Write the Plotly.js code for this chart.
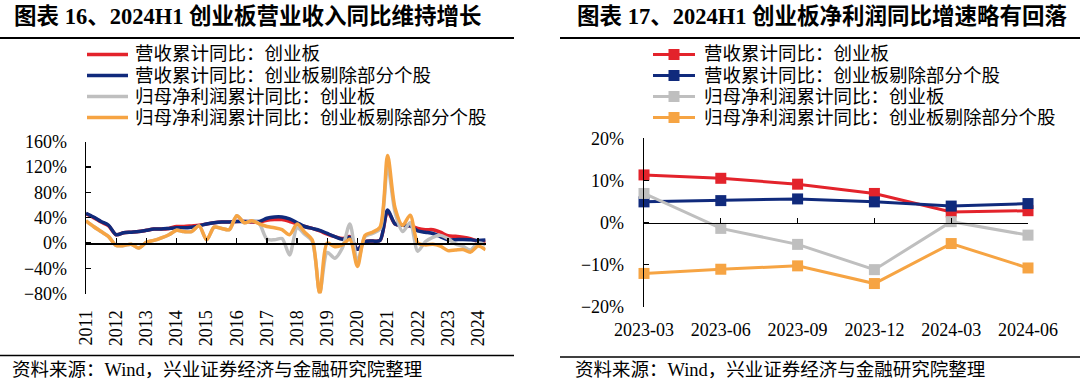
<!DOCTYPE html>
<html>
<head>
<meta charset="utf-8">
<script src="https://cdn.plot.ly/plotly-3.0.1.min.js"></script>
<style>html,body{margin:0;padding:0;background:#fff;}#chart{width:1080px;height:387px;}</style>
</head>
<body>
<div id="chart"></div>
<script>
// ---------------- data ----------------
const quarters = [
 '2011-03','2011-06','2011-09','2011-12','2012-03','2012-06','2012-09','2012-12',
 '2013-03','2013-06','2013-09','2013-12','2014-03','2014-06','2014-09','2014-12',
 '2015-03','2015-06','2015-09','2015-12','2016-03','2016-06','2016-09','2016-12',
 '2017-03','2017-06','2017-09','2017-12','2018-03','2018-06','2018-09','2018-12',
 '2019-03','2019-06','2019-09','2019-12','2020-03','2020-06','2020-09','2020-12',
 '2021-03','2021-06','2021-09','2021-12','2022-03','2022-06','2022-09','2022-12',
 '2023-03','2023-06','2023-09','2023-12','2024-03','2024-06'];
const yearTickVals = ['2011-03','2012-03','2013-03','2014-03','2015-03','2016-03','2017-03',
 '2018-03','2019-03','2020-03','2021-03','2022-03','2023-03','2024-03'];
const yearTickText = ['2011','2012','2013','2014','2015','2016','2017','2018','2019','2020','2021','2022','2023','2024'];

const revGem = [46,40,33,27, 13,16,17,18, 20,22,22,23, 26,26,27,28, 30,32,33,33, 34,34,33,33,
 36,37,37,34, 30,26,23,19, 14,10,7,10, -10,2,3,4, 50,30,28,27, 23,21,21,17,
 11.3,10.5,9.1,6.9, 2.5,2.8];
const revGemEx = [47,41,34,28, 13,16,17,18, 20,22,22,23, 24,24,25,27, 30,32,33,33, 34,34,34,34,
 39,41,41,38, 32,26,23,20, 15,10,6,9, -10,2,3,4, 52,30,28,27, 19,17,15,10,
 4.9,5.2,5.6,4.9, 3.9,4.5];
const npGem = [35,26,18,10, -4,-4,-2,-8, 1,4,8,13, 20,18,18,27, 5,25,23,21, 43,32,35,30,
 6,5,7,-19, 24,14,3,-78, -15,-24,-8,30, -30,10,15,22, 122,48,18,32, -13,2,9,12,
 6.9,-1.4,-5.2,-11.2, 0.2,-3.0];
const npGemEx = [35,26,18,10, -4,-4,-2,-8, 1,4,8,13, 20,18,18,27, 5,25,23,21, 43,32,35,30,
 26,24,21,13, 30,17,5,-80, 0,-6,-3,6, -37,12,17,25, 138,55,28,44, 0,-3,-2,-5,
 -12.1,-11.1,-10.3,-14.5, -5.0,-10.8];

const recentQuarters = ['2023-03','2023-06','2023-09','2023-12','2024-03','2024-06'];
const revGem2   = [11.3,10.5,9.1,6.9,2.5,2.8];
const revGemEx2 = [4.9,5.2,5.6,4.9,3.9,4.5];
const npGem2    = [6.9,-1.4,-5.2,-11.2,0.2,-3.0];
const npGemEx2  = [-12.1,-11.1,-10.3,-14.5,-5.0,-10.8];

const seriesNames = ['营收累计同比：创业板','营收累计同比：创业板剔除部分个股',
 '归母净利润累计同比：创业板','归母净利润累计同比：创业板剔除部分个股'];
const colors = ['#E3232B','#102A7C','#BFBFBF','#F6A443'];

const title1 = '图表 16、2024H1 创业板营业收入同比维持增长';
const title2 = '图表 17、2024H1 创业板净利润同比增速略有回落';
const sourceText = '资料来源：Wind，兴业证券经济与金融研究院整理';

// ---------------- helpers ----------------
const W = 1080, H = 387;
const px = x => x / W;
const py = y => 1 - y / H;
const FONT = 'Liberation Serif, "Times New Roman", "Noto Sans CJK SC", serif';
const tickFont = {family: FONT, size: 18, color: '#000'};

const leftSeries = [revGem, revGemEx, npGem, npGemEx];
const rightSeries = [revGem2, revGemEx2, npGem2, npGemEx2];

const traces = [];
leftSeries.forEach((s, i) => {
  traces.push({x: quarters, y: s, xaxis: 'x', yaxis: 'y', type: 'scatter', mode: 'lines',
    name: seriesNames[i], showlegend: false, hoverinfo: 'skip',
    line: {color: colors[i], width: 3.5, shape: 'spline', smoothing: 0.8}});
});
rightSeries.forEach((s, i) => {
  traces.push({x: recentQuarters, y: s, xaxis: 'x2', yaxis: 'y2', type: 'scatter', mode: 'lines+markers',
    name: seriesNames[i], showlegend: false, hoverinfo: 'skip', cliponaxis: false,
    line: {color: colors[i], width: 3},
    marker: {symbol: 'square', size: 11, color: colors[i]}});
});
// carriers for the zero-crossing axes
traces.push({x: quarters, y: quarters.map(() => null), xaxis: 'x3', yaxis: 'y', type: 'scatter',
  mode: 'lines', showlegend: false, hoverinfo: 'skip'});
traces.push({x: recentQuarters, y: recentQuarters.map(() => null), xaxis: 'x4', yaxis: 'y2', type: 'scatter',
  mode: 'lines', showlegend: false, hoverinfo: 'skip'});

// ---------------- legend (manual) ----------------
const shapes = [];
const annotations = [];
const rowsY = [54.5, 75.5, 96.5, 117.5];
seriesNames.forEach((n, i) => {
  const y = rowsY[i];
  // left legend
  shapes.push({type: 'line', xref: 'paper', yref: 'paper', x0: px(87), x1: px(128), y0: py(y), y1: py(y),
    line: {color: colors[i], width: 3.5}});
  annotations.push({xref: 'paper', yref: 'paper', x: px(133), y: py(y), xanchor: 'left', yanchor: 'middle',
    text: n, showarrow: false, font: {family: FONT, size: 18.5, color: '#000'}});
  // right legend
  shapes.push({type: 'line', xref: 'paper', yref: 'paper', x0: px(653), x1: px(695), y0: py(y), y1: py(y),
    line: {color: colors[i], width: 3}});
  shapes.push({type: 'rect', xref: 'paper', yref: 'paper', x0: px(668.5), x1: px(679.5), y0: py(y + 5.5), y1: py(y - 5.5),
    line: {width: 0}, fillcolor: colors[i]});
  annotations.push({xref: 'paper', yref: 'paper', x: px(702), y: py(y), xanchor: 'left', yanchor: 'middle',
    text: n, showarrow: false, font: {family: FONT, size: 18.5, color: '#000'}});
});

// titles
annotations.push({xref: 'paper', yref: 'paper', x: px(12), y: py(16), xanchor: 'left', yanchor: 'middle',
  text: '<b>' + title1 + '</b>', showarrow: false, font: {family: FONT, size: 22.5, color: '#000'}});
annotations.push({xref: 'paper', yref: 'paper', x: px(575), y: py(16), xanchor: 'left', yanchor: 'middle',
  text: '<b>' + title2 + '</b>', showarrow: false, font: {family: FONT, size: 22.5, color: '#000'}});
// sources
annotations.push({xref: 'paper', yref: 'paper', x: px(10), y: py(370), xanchor: 'left', yanchor: 'middle',
  text: sourceText, showarrow: false, font: {family: FONT, size: 18.5, color: '#000'}});
annotations.push({xref: 'paper', yref: 'paper', x: px(573), y: py(370), xanchor: 'left', yanchor: 'middle',
  text: sourceText, showarrow: false, font: {family: FONT, size: 18.5, color: '#000'}});

// rules
[[0, 514, 38, 2], [560, 1080, 38, 2], [0, 514, 355.5, 1.5], [560, 1080, 357, 1.5]].forEach(r => {
  shapes.push({type: 'line', xref: 'paper', yref: 'paper', x0: px(r[0]), x1: px(r[1]), y0: py(r[2]), y1: py(r[2]),
    line: {color: '#000', width: r[3]}});
});

const axisCommon = {showgrid: false, zeroline: false, fixedrange: true};

const layout = {
  width: W, height: H,
  margin: {l: 0, r: 0, t: 0, b: 0},
  paper_bgcolor: '#fff', plot_bgcolor: 'rgba(0,0,0,0)',
  showlegend: false,
  font: {family: FONT, color: '#000'},
  xaxis: Object.assign({}, axisCommon, {
    domain: [px(86), px(485.6)], anchor: 'y', type: 'category', range: [0, 53],
    showline: false, ticks: '', tickmode: 'array', tickvals: yearTickVals, ticktext: yearTickText,
    tickangle: -90, tickfont: tickFont, ticklabelstandoff: 12}),
  yaxis: Object.assign({}, axisCommon, {
    domain: [py(293.6), py(141.7)], anchor: 'x', range: [-80, 160], tickmode: 'linear', tick0: 0, dtick: 40,
    ticksuffix: '%', showline: true, linecolor: '#000', linewidth: 1.3,
    ticks: 'inside', ticklen: 5, tickwidth: 1.3, tickcolor: '#000', tickfont: tickFont, ticklabelstandoff: 14}),
  xaxis3: Object.assign({}, axisCommon, {
    overlaying: 'x', anchor: 'free', position: py(243.3), type: 'category', range: [0, 53],
    showline: true, linecolor: '#000', linewidth: 1.3, ticks: 'inside', ticklen: 5, tickwidth: 1.3, tickcolor: '#000',
    tickmode: 'array', tickvals: yearTickVals, showticklabels: false}),
  xaxis2: Object.assign({}, axisCommon, {
    domain: [px(644), px(1028)], anchor: 'y2', type: 'category', range: [0, 5],
    showline: false, ticks: '', tickfont: tickFont, ticklabelstandoff: 10}),
  yaxis2: Object.assign({}, axisCommon, {
    domain: [py(306.7), py(138.3)], anchor: 'x2', range: [-20, 20], tickmode: 'linear', tick0: 0, dtick: 10,
    ticksuffix: '%', showline: true, linecolor: '#000', linewidth: 1.3,
    ticks: 'inside', ticklen: 5, tickwidth: 1.3, tickcolor: '#000', tickfont: tickFont, ticklabelstandoff: 15}),
  xaxis4: Object.assign({}, axisCommon, {
    overlaying: 'x2', anchor: 'free', position: py(222.5), type: 'category', range: [0, 5],
    showline: true, linecolor: '#000', linewidth: 1.3, ticks: 'inside', ticklen: 5, tickwidth: 1.3, tickcolor: '#000',
    showticklabels: false}),
  shapes: shapes,
  annotations: annotations
};

Plotly.newPlot('chart', traces, layout, {staticPlot: true, displayModeBar: false});
</script>
</body>
</html>
